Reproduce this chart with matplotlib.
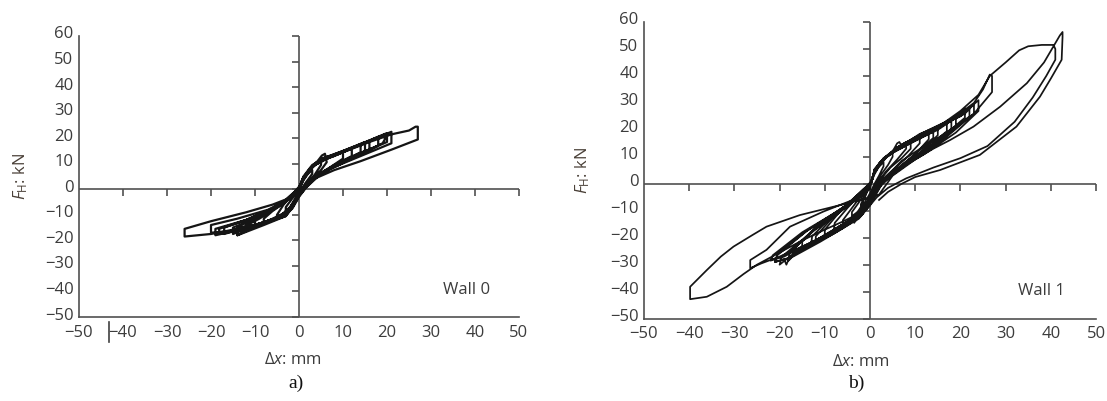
import matplotlib
matplotlib.use("Agg")
import matplotlib.pyplot as plt
import matplotlib.markers as mmarkers
import matplotlib.transforms as mtransforms

plt.rcParams['font.family'] = ['Open Sans', 'DejaVu Sans']
plt.rcParams['mathtext.fontset'] = 'custom'
plt.rcParams['mathtext.rm'] = 'Open Sans'
plt.rcParams['mathtext.it'] = 'Open Sans:italic'

# ---------------- data ----------------
x_ticks = [-50, -40, -30, -20, -10, 0, 10, 20, 30, 40, 50]
y_ticks = [-50, -40, -30, -20, -10, 0, 10, 20, 30, 40, 50, 60]
x_tick_labels = ['\u221250', '\u221240', '\u221230', '\u221220', '\u221210', '0', '10', '20', '30', '40', '50']
y_tick_labels = ['\u221250', '\u221240', '\u221230', '\u221220', '\u221210', '0', '10', '20', '30', '40', '50', '60']

# Wall 0: recorded displacement (mm) / horizontal force (kN), cycle after cycle
wall0_dx = (
    [0, 1, 2, 3, 3, 1.5, 0, -1, -2, -3, -3, -1.5, 0]
    + [1, 2.5, 4, 5, 5, 3.5, 2, 0.5, -1, -2.5, -4, -5, -5, -3.5, -2, 0]
    + [1, 2.5, 4, 5.2, 5.9, 6.3, 5, 3, 1, -0.5, -2, -4, -6, -8, -8, -6, -3.5, -1.5, 0]
    + [1, 2.5, 4, 7, 10, 10, 7, 4, 2, 0, -1.5, -3, -6, -10, -10, -7, -4, -2, 0]
    + [1, 2.5, 4, 8, 12, 12, 8, 4, 2, 0, -1.5, -3, -7, -12, -12, -8, -4, -2, 0]
    + [1, 3, 6, 10, 14, 14, 10, 5, 2.5, 0, -1.5, -3, -7, -11, -14, -14, -10, -5, -2, 0]
    + [1, 3, 6, 10, 15, 15, 10, 5, 2.5, 0, -1.5, -3, -8, -14, -14, -9, -4.5, -2, 0]
    + [1, 3, 6, 11, 16, 16, 11, 5, 2.5, 0, -1.5, -3, -8, -15, -15, -10, -5, -2, 0]
    + [1, 3, 7, 12, 18, 18, 12, 6, 2.5, 0, -1.5, -3, -9, -17, -17, -11, -5, -2, 0]
    + [1, 3, 7, 13, 19.5, 19.5, 19, 13, 6, 2.5, 0, -1.5, -3, -10, -18, -18.2, -12, -6, -2, 0]
    + [1, 3, 7, 13, 20, 20, 13, 6, 2.5, 0, -1.5, -3, -10, -19, -19, -12, -6, -2, 0]
    + [1, 3, 5, 8, 14, 21, 21, 14, 7, 3, 0, -1.5, -3, -10, -16, -20, -20, -14, -7, -2.5, 0]
    + [1, 3, 5, 10, 16, 21, 25, 26.5, 27, 27, 21, 14, 8, 4, 1.5, 0, -1.5, -3, -8, -14,
       -20, -26, -26, -20, -12, -6, -3, -1, 0]
)
wall0_fh = (
    [0, 3.5, 6, 7.5, 6, 2.5, -1.5, -4.5, -7, -8.5, -7, -3.5, 0]
    + [3.8, 7.5, 10, 11.5, 9.5, 5.5, 2.5, -1, -5, -8.5, -10.5, -11.5, -10, -6, -3, 0.5]
    + [4, 8, 10.5, 13.2, 13.9, 10.6, 7.5, 4, 1, -2.5, -7, -10, -12, -13.5, -11.5, -8.5, -5.5, -2.5, 0.5]
    + [4.2, 8, 10.5, 12.5, 14.5, 12, 8.5, 5, 2, -2, -6, -9, -11.5, -14.5, -12, -9, -6, -3, 0.5]
    + [4.5, 8.2, 10.5, 13, 16, 13, 9.5, 5, 2, -2, -6.5, -9.5, -12.5, -16, -13.5, -10, -6, -3, 0.5]
    + [4.5, 8.8, 11.8, 14.5, 17.5, 14.5, 11, 6, 2.8, -2, -6.5, -9.5, -12.5, -15.5, -18, -15, -11, -6.5, -3, 0.5]
    + [5, 9.5, 12.5, 15, 18.5, 15, 11, 6, 2.5, -2.5, -7, -10.5, -14, -18, -16, -11.5, -6.5, -3, 0.5]
    + [4.5, 9, 12, 15.5, 19, 15.5, 11.5, 6.5, 3, -2, -6.5, -10, -13, -17.5, -15, -11.5, -7, -3.5, 0.5]
    + [4.5, 9, 12.5, 16, 20.5, 17, 12, 7, 3, -2.5, -7, -10, -13.5, -17.5, -15, -11.5, -7, -3.5, 0.5]
    + [4.5, 9, 12.8, 16.8, 21.5, 19.5, 18, 13, 7, 3, -2.5, -7, -10, -14, -17.5, -15.5, -12, -7.5, -3.5, 0.5]
    + [4.5, 9, 13, 17, 22, 18.5, 13.5, 7.5, 3, -2.5, -7, -10.5, -14.5, -18, -15.5, -12, -7.5, -3.5, 0.5]
    + [4.5, 9, 12, 13.5, 17.5, 22.5, 18, 13, 8, 3.5, -2.5, -7, -10, -14, -16.5, -17, -14, -11.5, -8, -4, 0.5]
    + [4.5, 9, 11.5, 14.5, 18.5, 21.5, 23, 24.5, 24.5, 19.5, 15.5, 11, 7.5, 4.5, 0.5, -3, -7.5, -10, -13, -15.5,
       -17.5, -18.5, -15.5, -12.5, -9, -6, -4, -1, 1]
)

# Wall 1
wall1_dx = (
    [0, 0.8, 1.8, 3, 3, 2, 1, 0, -1, -2, -2, -1, 0]
    + [1, 2, 3.5, 5, 5, 4, 2.5, 1.5, 0.5, -0.5, -2, -4, -4, -2.5, -1, 0]
    + [1, 2, 3.5, 5, 6, 6.5, 7, 9, 9, 7, 4.5, 3, 1.5, 0.5, -1, -2.5, -3.5, -3.3, -2, -1, 0.3]
    + [1, 2, 4, 6, 8, 8, 6, 3.5, 1.5, 0, -1.5, -3.5, -6, -6, -4, -2, 0.3]
    + [1, 2.5, 4, 6, 8, 11, 11, 8, 5, 3, 1.5, 0.3, -1, -3, -5.5, -8, -7.8, -5, -2.5, -0.8, 0.3]
    + [1, 2.5, 4, 7, 10, 13, 13, 10, 6, 3.5, 1.5, 0, -1.5, -4, -7, -10, -10, -7, -4, -1.5, 0.3]
    + [1, 2.5, 5, 9, 14, 14, 10, 6, 3, 1.5, 0, -2, -5, -9, -12, -12, -8, -4, -1.5, 0.3]
    + [1, 2.5, 4.5, 8, 12, 15, 15, 11, 7, 4, 2, 0, -2, -5, -9, -13, -12.8, -9, -5, -2, 0.3]
    + [1, 2.5, 5, 9, 13, 17, 17, 12, 7, 4, 2, 0, -2, -6, -10, -15, -15, -10, -5, -2, 0.3]
    + [1, 3, 6, 10, 14, 18, 18, 13, 8, 4, 1.5, 0, -2, -6, -11, -17, -17, -12, -6, -2, 0.3]
    + [1, 2.5, 5, 10, 15, 19, 19, 14, 8, 4.5, 2, 0, -2, -6, -11, -16, -18, -17.8, -12, -6, -2, 0.3]
    + [1, 2.5, 6, 11, 16, 19, 21, 21, 15, 9, 5, 2, 0, -2, -7, -12, -17, -20, -19.5, -13, -7, -2.5, 0.3]
    + [1, 3, 6, 11, 16, 20, 22, 22, 16, 9, 4.5, 1.5, 0, -2.5, -8, -14, -18, -21, -20.5, -14, -7, -2, 0.3]
    + [1, 2.5, 6, 12, 17, 21, 23, 23, 17, 10, 5, 2, 0, -2, -8, -14, -19, -22, -21.5, -15, -8, -3, 0.3]
    + [1, 3, 7, 13, 18, 22, 24, 24, 19, 12, 6, 2.5, 0, -2.5, -9, -15, -18, -18.5, -19, -21,
       -20.5, -14, -8, -3, 0.3]
    + [1, 3, 7, 13, 19, 23, 25, 26.5, 27, 27, 23, 18, 12, 7, 3.5, 1, -1, -3, -8, -14,
       -20, -24, -26.5, -26.5, -22.9, -17.7, -10.3, -2.9, 0]
    + [1, 3, 6, 10, 15, 20, 24, 26.5, 30, 33, 35, 38, 40.6, 41, 41, 39, 36, 32, 26, 20,
       14, 8, 4, 1.5, 0, -3, -6, -10, -15, -20, -25, -28, -31.7, -36.1, -39.8, -39.8, -36.1, -33, -30.2, -26,
       -22.9, -15.5, -6.6, -0.7, 2]
    + [5, 10, 14, 17.7, 22.9, 28.8, 34.7, 38.5, 40.6, 42, 42.6, 42.6, 42.4, 40, 37.6, 32.4, 24.3, 15.5, 10, 7, 4, 2]
)
wall1_fh = (
    [0, 3.5, 6, 8, 6.5, 3, 0, -3.5, -6.5, -9, -7.5, -4, -0.5]
    + [3.5, 6.5, 9.5, 12, 10, 7, 3.5, 0.5, -3, -6.5, -9.5, -12, -10.5, -7, -3, 0]
    + [4.5, 7.5, 10, 12, 15, 15.5, 14, 15, 13, 9.5, 6, 3, -1, -5, -8.5, -12, -14.5, -12, -8.5, -4.5, 1]
    + [4, 7, 10.5, 13.5, 15.5, 13, 9, 4.5, 0, -5, -9.5, -13, -15.5, -13.5, -9, -4.5, 0.5]
    + [4.5, 8, 10.5, 13, 14.5, 17, 15, 9.5, 5, 2, -1.5, -5.5, -9, -12, -14.5, -17, -14.5, -9, -4.5, -1, 1]
    + [4.5, 8, 10.5, 14, 16.5, 19, 16.5, 11, 5.5, 2, -1, -6, -9.5, -13, -16, -19.5, -17, -11, -6, -2, 0.5]
    + [5, 8.5, 12, 15.5, 20, 17, 11, 5.5, 1.5, -1.5, -7, -11, -15, -19, -22, -19.5, -12, -6.5, -2.5, 0.5]
    + [4.8, 8.5, 11, 14.5, 18, 21, 18, 11.5, 6.5, 2.5, -1, -6.5, -10.5, -14, -18, -22, -19.5, -13, -7.5, -3, 0.5]
    + [5, 8.5, 11.5, 15, 18.5, 22.5, 19.5, 12.5, 6.5, 2.5, -1, -7, -11, -15, -19, -24, -21.5, -13.5, -8, -3.5, 0.5]
    + [5.5, 9.5, 13.5, 16.5, 20, 23.5, 20.5, 13, 7, 2, -1.5, -7.5, -12, -16.5, -21.5, -27, -24.5, -16, -9, -3.5, 0.5]
    + [5, 8.5, 11.5, 16, 20, 24.5, 21.5, 14, 7.5, 3, -1, -7, -11, -15.5, -20, -25, -28.5, -25.5, -16.5, -9.5, -4, 0.5]
    + [5, 8.5, 13, 18, 22, 24.5, 28, 24.5, 16, 8.5, 3.5, -1, -7.5, -11.5, -16.5, -21, -26, -30, -27, -18, -11, -5, 0.5]
    + [5, 9.5, 13, 18.5, 22, 25, 28, 25, 16.5, 8.5, 3, -2, -8, -13, -18.5, -23.5, -27.5, -29, -26.5, -17.5,
       -10, -4, 0.5]
    + [5, 8.5, 13.5, 19, 22.5, 26, 29.5, 26, 17.5, 9.5, 4, -1.5, -7.5, -12, -17.5, -22.5, -27, -28.5, -26.5, -18,
       -11, -5.5, 0.5]
    + [5, 9, 14.5, 20, 24, 28, 31, 27, 19, 11, 5, -0.5, -8, -12.5, -18.5, -24, -28, -30, -28, -29,
       -26, -17.5, -11, -5.5, 0.5]
    + [5, 9, 14, 19.5, 25, 30, 35, 40.5, 40, 34, 26, 20, 14, 8.5, 2.5, -4, -8, -13, -18, -22.5,
       -27, -29.5, -31.3, -28.3, -24.5, -15.9, -10.3, -5.4, -2]
    + [5, 9, 13, 16.5, 21, 27, 33, 40, 45, 49.5, 51, 51.5, 51.5, 50, 46, 40, 32, 23, 14, 9.5,
       6, 2, -1.5, -5, -8, -11.5, -14, -17, -21, -25.5, -30, -33.5, -38.2, -41.9, -42.8, -38.2, -32, -27, -23.3, -19,
       -15.9, -11.6, -7.9, -5.4, -4]
    + [3, 9, 13, 16.2, 21.2, 28.6, 37.3, 45, 51, 55, 56.3, 54.5, 46, 39, 32.3, 21.2, 10.7, 5.1, 2.5, 0, -3, -6]
)

panel_titles = ['Wall 0', 'Wall 1']
panel_letters = ['a)', 'b)']

# ---------------- figure ----------------
W, H = 1107, 401
fig = plt.figure(figsize=(W / 100, H / 100), dpi=100)
ax0 = fig.add_axes([79 / W, (H - 317) / H, 440 / W, 281 / H])
ax1 = fig.add_axes([644 / W, (H - 318.6) / H, 452 / W, 296.6 / H])

axis_col = '#505050'
text_col = '#3c3c3c'
fs = 12


def style(ax, xs, ys, title, lw_data, label_x, ylab_x, xlab_y):
    ax.plot(xs, ys, color='#151515', lw=lw_data, solid_joinstyle='round', zorder=3)
    ax.set_xlim(-50, 50)
    ax.set_ylim(-50, 60)
    for s in ['top', 'right']:
        ax.spines[s].set_visible(False)
    for s in ['left', 'bottom']:
        ax.spines[s].set_color(axis_col)
        ax.spines[s].set_linewidth(1.2)
    ax.set_xticks(x_ticks)
    ax.set_xticklabels(x_tick_labels)
    ax.set_yticks(y_ticks)
    ax.set_yticklabels(y_tick_labels)
    ax.tick_params(axis='both', length=0, labelsize=fs, labelcolor=text_col)
    ax.tick_params(axis='x', pad=5.5)
    ax.tick_params(axis='y', pad=4)
    off = mtransforms.ScaledTranslation(0, 3.5 / 100, fig.dpi_scale_trans)
    for lbl in ax.get_yticklabels():
        lbl.set_transform(lbl.get_transform() + off)
    # axes through the origin with their tick marks
    ax.axhline(0, color=axis_col, lw=1.2, zorder=2)
    ax.axvline(0, color=axis_col, lw=1.2, zorder=2)
    ax.plot(x_ticks[1:], [0] * (len(x_ticks) - 1), ls='none', marker=mmarkers.TICKDOWN,
            ms=5, mew=1.2, color=axis_col, clip_on=False, zorder=2)
    ax.plot([0] * len(y_ticks), y_ticks, ls='none', marker=mmarkers.TICKLEFT,
            ms=5, mew=1.2, color=axis_col, clip_on=False, zorder=2)
    ax.set_xlabel(r'$\Delta x$: mm', fontsize=fs, color=text_col)
    ax.xaxis.set_label_coords(label_x, xlab_y)
    ax.set_ylabel(r'$F_{\mathrm{H}}$: kN', fontsize=fs, color='#4a4038')
    ax.yaxis.set_label_coords(ylab_x, 0.5)
    ax.text(38, -39.6, title, ha='center', va='center', fontsize=fs, color=text_col)


style(ax0, wall0_dx, wall0_fh, panel_titles[0], 1.6, 0.485, -0.112, -0.125)
style(ax1, wall1_dx, wall1_fh, panel_titles[1], 1.25, 0.48, -0.115, -0.12)

# stray vertical mark next to the -40 label in panel a)
ax0.plot([0.069, 0.069], [-0.018, -0.09], transform=ax0.transAxes, color='#404040',
         lw=1.2, clip_on=False)

fig.text(296 / W, (H - 383) / H, panel_letters[0], ha='center', va='center',
         fontsize=14, family='Liberation Serif', color='#111111')
fig.text(856 / W, (H - 383) / H, panel_letters[1], ha='center', va='center',
         fontsize=14, family='Liberation Serif', color='#111111')

fig.savefig('out.png', dpi=100)
